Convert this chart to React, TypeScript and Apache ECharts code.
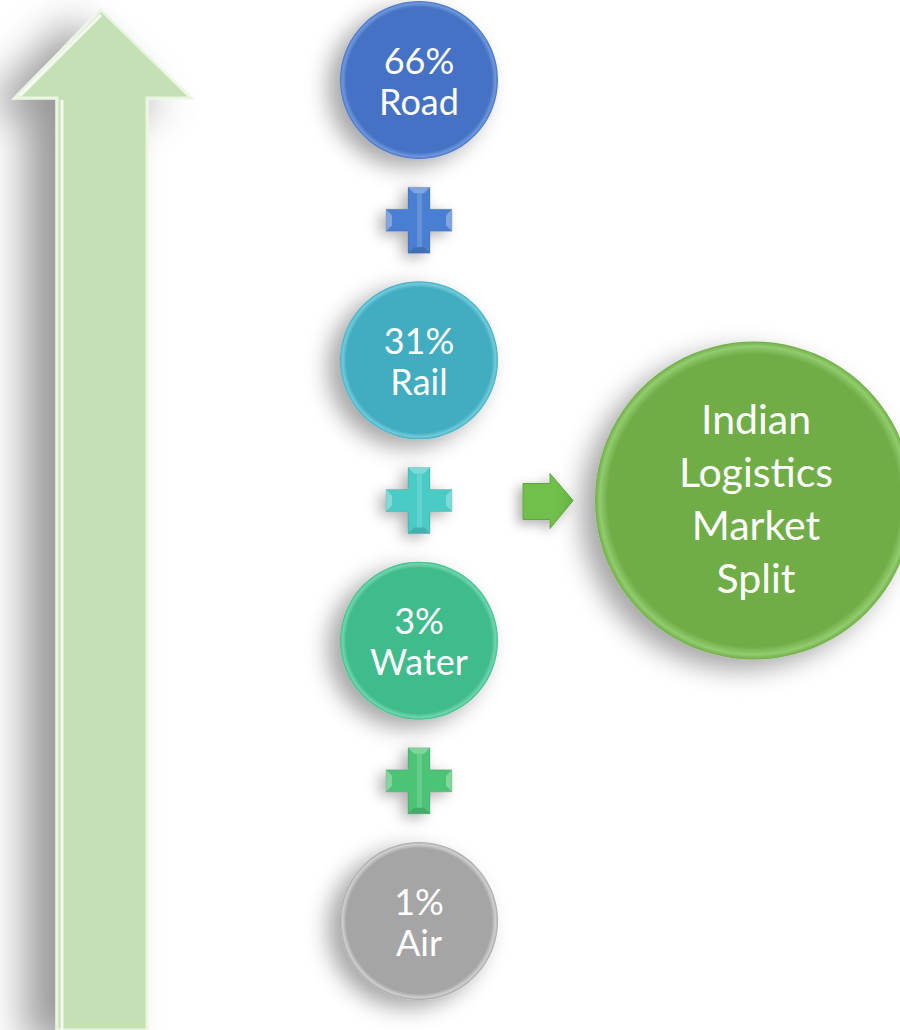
import React, { useEffect, useRef } from "react";
import * as echarts from "echarts";

// ---- data ----
const categories = ["Road", "Rail", "Water", "Air"];
const shares = [66, 31, 3, 1];
const circleColors = ["#4472c4", "#43acc0", "#40bb8c", "#a5a5a5"];
const rimColors = ["#6f97dc", "#70cbdb", "#6fd6ac", "#cfcfcf"];
const plusColors = ["#4a7fd2", "#48cbc6", "#4cc476"];
const centerTitle = ["Indian", "Logistics", "Market", "Split"];

const FONT = "Lato, 'Open Sans', sans-serif";

function circleFill(c: string, rim: string) {
  return {
    type: "radial",
    x: 0.5,
    y: 0.5,
    r: 0.5,
    colorStops: [
      { offset: 0, color: c },
      { offset: 0.92, color: c },
      { offset: 0.97, color: rim },
      { offset: 1, color: c },
    ],
  };
}

function plusGraphic(cx: number, cy: number, color: string, z: number) {
  const a = 33; // arm length
  const w = 11; // half thickness
  const pts = [
    [cx - w, cy - a], [cx + w, cy - a], [cx + w, cy - w], [cx + a, cy - w],
    [cx + a, cy + w], [cx + w, cy + w], [cx + w, cy + a], [cx - w, cy + a],
    [cx - w, cy + w], [cx - a, cy + w], [cx - a, cy - w], [cx - w, cy - w],
  ];
  const b = 6;
  const hi = "rgba(255,255,255,0.3)";
  const lo = "rgba(0,0,0,0.12)";
  return [
    {
      type: "polygon",
      z,
      shape: { points: pts },
      style: {
        fill: color,
        stroke: "rgba(0,0,0,0.12)",
        lineWidth: 1,
        shadowBlur: 14,
        shadowOffsetX: -6,
        shadowOffsetY: 4,
        shadowColor: "rgba(0,0,0,0.3)",
      },
    },
    // bevel facets
    { type: "polygon", z: z + 1, shape: { points: [[cx - w, cy - a], [cx + w, cy - a], [cx + w - b, cy - a + b], [cx - w + b, cy - a + b]] }, style: { fill: hi } },
    { type: "polygon", z: z + 1, shape: { points: [[cx - w, cy + a], [cx + w, cy + a], [cx + w - b, cy + a - b], [cx - w + b, cy + a - b]] }, style: { fill: lo } },
    { type: "polygon", z: z + 1, shape: { points: [[cx - a, cy - w], [cx - a, cy + w], [cx - a + b, cy + w - b], [cx - a + b, cy - w + b]] }, style: { fill: hi } },
    { type: "polygon", z: z + 1, shape: { points: [[cx + a, cy - w], [cx + a, cy + w], [cx + a - b, cy + w - b], [cx + a - b, cy - w + b]] }, style: { fill: hi } },
    { type: "rect", z: z + 1, shape: { x: cx - 2, y: cy - a + b, width: 5, height: 2 * a - 2 * b }, style: { fill: "rgba(255,255,255,0.15)" } },
  ];
}

export default function App() {
  const ref = useRef<HTMLDivElement>(null);
  useEffect(() => {
    const chart = echarts.init(ref.current!, null, { renderer: "svg" });
    chart.setOption({
      animation: false,
      backgroundColor: "#ffffff",
      grid: { left: 340, width: 158, top: 80, height: 841 },
      xAxis: { type: "category", data: ["share"], show: false },
      yAxis: {
        type: "category",
        data: categories,
        inverse: true,
        boundaryGap: false,
        show: false,
      },
      series: [
        {
          type: "scatter",
          z: 5,
          symbolSize: 158,
          data: categories.map((c, i) => ({
            name: c,
            value: ["share", c, shares[i]],
            itemStyle: {
              color: circleFill(circleColors[i], rimColors[i]),
              opacity: 1,
              shadowBlur: 22,
              shadowOffsetX: -12,
              shadowOffsetY: 8,
              shadowColor: "rgba(0,0,0,0.35)",
            },
          })),
          label: {
            show: true,
            position: "inside",
            color: "#ffffff",
            fontFamily: FONT,
            fontSize: 36,
            lineHeight: 41,
            formatter: (p: any) => `${shares[p.dataIndex]}%\n${categories[p.dataIndex]}`,
          },
        },
      ],
    });

    const cx = chart.convertToPixel({ xAxisIndex: 0 }, "share") as number;
    const ys = categories.map((c) => chart.convertToPixel({ yAxisIndex: 0 }, c) as number);
    const mids = ys.slice(0, -1).map((y, i) => (y + ys[i + 1]) / 2);
    const midY = mids[1];

    const graphics: any[] = [];
    // Big upward arrow
    graphics.push({
      type: "polygon",
      z: 1,
      shape: {
        points: [
          [101, 10], [191, 98], [147, 98], [147, 1030], [57, 1030], [57, 98], [15, 98],
        ],
      },
      style: {
        fill: "#c5e0b4",
        stroke: "#eaf5e2",
        lineWidth: 3,
        shadowBlur: 40,
        shadowOffsetX: -30,
        shadowOffsetY: 12,
        shadowColor: "rgba(0,0,0,0.4)",
      },
    });
    graphics.push({
      type: "polyline",
      z: 2,
      shape: { points: [[62, 1030], [62, 100]] },
      style: { stroke: "rgba(255,255,255,0.8)", lineWidth: 3 },
    });
    graphics.push({
      type: "polyline",
      z: 2,
      shape: { points: [[20, 96], [101, 15]] },
      style: { stroke: "rgba(255,255,255,0.8)", lineWidth: 3 },
    });

    mids.forEach((y, i) => {
      plusGraphic(cx, y, plusColors[i], 3).forEach((g) => graphics.push(g));
    });

    // small right arrow
    graphics.push({
      type: "polygon",
      z: 3,
      shape: {
        points: [
          [523, midY - 17], [550, midY - 17], [550, midY - 27], [573, midY],
          [550, midY + 28], [550, midY + 19], [523, midY + 19],
        ],
      },
      style: {
        fill: "#70c04c",
        stroke: "#5ea63b",
        lineWidth: 1,
        shadowBlur: 12,
        shadowOffsetX: -5,
        shadowOffsetY: 4,
        shadowColor: "rgba(0,0,0,0.3)",
      },
    });

    // big result circle
    graphics.push({
      type: "circle",
      z: 4,
      shape: { cx: 754, cy: midY, r: 159 },
      style: {
        fill: circleFill("#70ad47", "#92cc6e"),
        shadowBlur: 26,
        shadowOffsetX: -14,
        shadowOffsetY: 10,
        shadowColor: "rgba(0,0,0,0.35)",
      },
    });
    graphics.push({
      type: "text",
      z: 6,
      x: 756,
      y: midY - 3,
      style: {
        text: centerTitle.join("\n"),
        fill: "#ffffff",
        font: `41px ${FONT}`,
        fontSize: 41,
        fontFamily: FONT,
        lineHeight: 53,
        align: "center",
        verticalAlign: "middle",
      },
    });

    chart.setOption({ graphic: graphics });
    return () => chart.dispose();
  }, []);

  return (
    <div
      ref={ref}
      style={{ position: "absolute", left: 0, top: 0, width: 900, height: 1030 }}
    />
  );
}
